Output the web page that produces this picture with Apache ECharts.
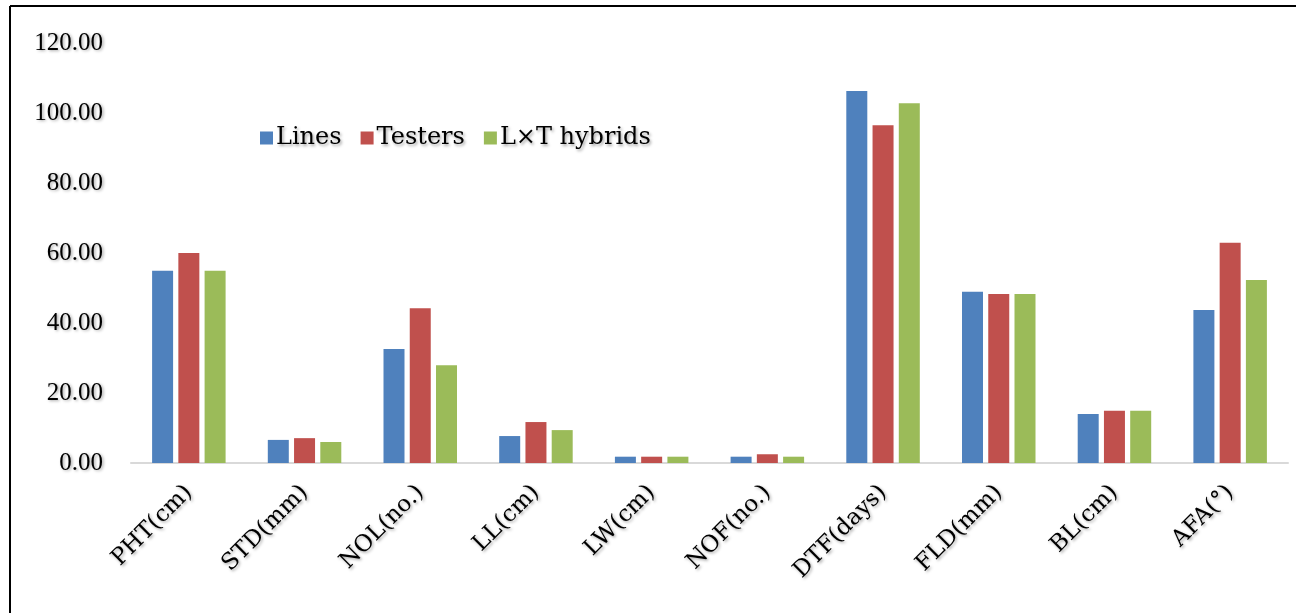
<!DOCTYPE html>
<html>
<head>
<meta charset="utf-8">
<script src="https://cdn.jsdelivr.net/npm/echarts@6/dist/echarts.min.js"></script>
<style>
html,body{margin:0;padding:0;background:#fff;}
#chart{width:1296px;height:613px;}
</style>
</head>
<body>
<div id="chart"></div>
<script>
var categories = ["PHT(cm)", "STD(mm)", "NOL(no.)", "LL(cm)", "LW(cm)", "NOF(no.)", "DTF(days)", "FLD(mm)", "BL(cm)", "AFA(°)"];
var seriesNames = ["Lines", "Testers", "L×T hybrids"];
var lines   = [54.9, 6.6, 32.6, 7.7, 1.8, 1.8, 106.3, 48.9, 14.0, 43.7];
var testers = [60.0, 7.1, 44.2, 11.7, 1.8, 2.5, 96.5, 48.3, 14.9, 62.9];
var hybrids = [54.9, 6.0, 27.9, 9.4, 1.8, 1.8, 102.8, 48.3, 14.9, 52.3];
var yTicks = { min: 0, max: 120, interval: 20 };

var colors = ['#4F81BD', '#C0504D', '#9BBB59'];
var shadow = { textShadowColor: 'rgba(0,0,0,0.35)', textShadowBlur: 3, textShadowOffsetX: 1.5, textShadowOffsetY: 1.5 };

var chart = echarts.init(document.getElementById('chart'), null, { renderer: 'canvas' });
var data = [lines, testers, hybrids];
chart.setOption({
  animation: false,
  color: colors,
  graphic: [
    { type: 'line', shape: { x1: 10, y1: 6, x2: 1296, y2: 6 }, style: { stroke: '#000', lineWidth: 2 } },
    { type: 'line', shape: { x1: 10, y1: 6, x2: 10, y2: 613 }, style: { stroke: '#000', lineWidth: 2 } }
  ],
  legend: {
    left: 255, top: 121,
    itemWidth: 13, itemHeight: 13, itemGap: 19,
    icon: 'rect',
    textStyle: Object.assign({ fontFamily: 'DejaVu Serif', fontSize: 24, color: '#000', padding: [0, 0, 0, -2] }, shadow),
    data: seriesNames
  },
  grid: { left: 131, right: 8, top: 43, bottom: 150, containLabel: false },
  xAxis: {
    type: 'category',
    data: categories,
    axisLine: { lineStyle: { color: '#d9d9d9', width: 2 } },
    axisTick: { show: false },
    axisLabel: Object.assign({ rotate: 45, interval: 0, margin: 26, fontFamily: 'DejaVu Serif', fontSize: 23, color: '#000' }, shadow)
  },
  yAxis: {
    type: 'value',
    min: yTicks.min, max: yTicks.max, interval: yTicks.interval,
    axisLine: { show: false },
    axisTick: { show: false },
    splitLine: { show: false },
    axisLabel: Object.assign({ margin: 28, fontFamily: 'Liberation Serif', fontSize: 25, color: '#000', formatter: function (v) { return v.toFixed(2); } }, shadow)
  },
  series: seriesNames.map(function (n, i) {
    return { name: n, type: 'bar', data: data[i], barWidth: 21, barGap: '25%', itemStyle: { color: colors[i] } };
  })
});
</script>
</body>
</html>
